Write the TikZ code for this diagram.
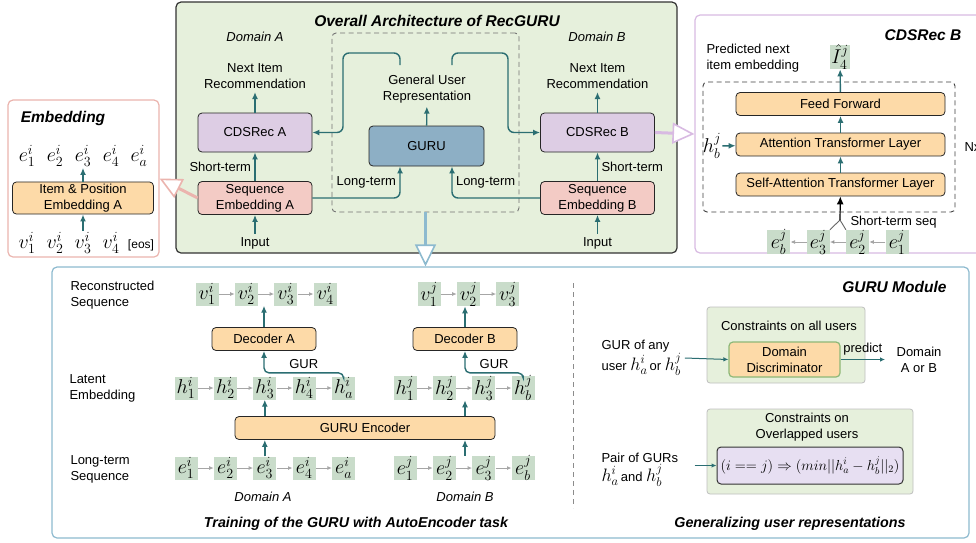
\documentclass[tikz,border=0pt]{standalone}
\usepackage{fix-cm}
\usepackage{amsmath,amssymb}
\usepackage[no-math]{fontspec}
\setmainfont{Liberation Sans}
\usetikzlibrary{arrows.meta,chains,positioning}

\definecolor{archgreen}{HTML}{E6F0DC}
\definecolor{itemgreen}{HTML}{C9DCCA}
\definecolor{cdspurple}{HTML}{DDCDE4}
\definecolor{gurublue}{HTML}{8DAFC5}
\definecolor{seqpink}{HTML}{F3CBC5}
\definecolor{layerorange}{HTML}{FDDAA8}
\definecolor{arrowteal}{HTML}{2B6E72}
\definecolor{moduleblue}{HTML}{8DBACF}
\definecolor{embpink}{HTML}{EBB4AE}
\definecolor{cdsborder}{HTML}{D8BAE2}
\definecolor{formulapurple}{HTML}{E7DFF2}
\definecolor{discgreen}{HTML}{8DB877}

\newcommand{\mth}[1]{{\fontsize{18}{18}\selectfont$#1$}}

\tikzset{
  every node/.style={font=\fontsize{13}{16}\selectfont},
  sectitle/.style={font=\fontsize{15.5}{18}\selectfont\bfseries\itshape},
  caption/.style={font=\fontsize{14.3}{17}\selectfont\bfseries\itshape},
  domlabel/.style={font=\fontsize{13}{16}\selectfont\itshape},
  panel/.style={draw, rounded corners=5pt, line width=1.2pt, fill=white},
  dashbox/.style={draw=black!55, dash pattern=on 5pt off 3.5pt, line width=0.9pt, rounded corners=4pt},
  block/.style={draw=black!85, rounded corners=4pt, line width=0.8pt, align=center, inner sep=2pt},
  cdsbox/.style={block, fill=cdspurple, minimum width=114pt, minimum height=39pt},
  gurubox/.style={block, fill=gurublue, minimum width=115pt, minimum height=40pt},
  seqbox/.style={block, fill=seqpink, minimum width=114pt, minimum height=33pt},
  layerbox/.style={block, fill=layerorange, minimum height=23pt},
  softbox/.style={draw=black!25, fill=archgreen, rounded corners=3pt, line width=0.8pt},
  seqitem/.style={fill=itemgreen, minimum width=23pt, minimum height=23pt, inner sep=0pt, font=\fontsize{20}{20}\selectfont},
  mathtxt/.style={font=\fontsize{20}{20}\selectfont, inner sep=1pt},
  tarrow/.style={draw=arrowteal, line width=1.4pt, -{Latex[length=7pt,width=6pt]}},
  tarrowthin/.style={draw=arrowteal, line width=1pt, -{Latex[length=5pt,width=4.5pt]}},
  garrow/.style={draw=black!35, line width=1pt, -{Latex[length=4.5pt,width=4pt]}},
  hollow/.style={line width=3pt, -{Triangle[length=22pt,width=21pt,fill=white,line width=1.6pt]}},
}

\begin{document}
\begin{tikzpicture}[x=1pt, y=-1pt]
\useasboundingbox (0,0) rectangle (976,542);
\clip (0,0) rectangle (976,542);

% panels
\node[panel, draw=black!80, fill=archgreen, minimum width=501pt, minimum height=251pt] (arch) at (426.5,127.5) {};
\node[panel, draw=embpink, minimum width=151pt, minimum height=157pt] (embpanel) at (83.5,178.5) {};
\node[panel, draw=cdsborder, minimum width=295pt, minimum height=238pt] (cdspanel) at (842.5,134) {};
\node[panel, draw=moduleblue, minimum width=917pt, minimum height=271pt] (gurumod) at (510.5,402.5) {};

% overall architecture
\node[sectitle] (archtitle) at (437,21) {Overall Architecture of RecGURU};
\node[domlabel] (domA) at (255,37) {Domain A};
\node[domlabel] (domB) at (597,37) {Domain B};
\node[dashbox, minimum width=187pt, minimum height=179pt] (gurdash) at (425.5,122.5) {};
\node[align=center] (nextA) at (255,76) {Next Item\\Recommendation};
\node[align=center] (nextB) at (597.5,76) {Next Item\\Recommendation};
\node[align=center] (gur) at (427,89) {General User\\Representation};
\node[cdsbox] (cdsA) at (255,132.5) {CDSRec A};
\node[cdsbox] (cdsB) at (597.5,132.5) {CDSRec B};
\node[gurubox] (guru) at (426.5,146) {GURU};
\node[seqbox] (seqA) at (255,198) {Sequence\\Embedding A};
\node[seqbox] (seqB) at (597.5,198) {Sequence\\Embedding B};
\node (inA) at (255,243) {Input};
\node (inB) at (597.5,243) {Input};
\coordinate (gurL) at (400,65);
\coordinate (gurR) at (452,65);

\draw[tarrow] (inA) -- (seqA);
\draw[tarrow] (inB) -- (seqB);
\draw[tarrow] (seqA) -- node[left] {Short-term} (cdsA);
\draw[tarrow] (seqB) -- node[right] {Short-term} (cdsB);
\draw[tarrow] (cdsA) -- (nextA);
\draw[tarrow] (cdsB) -- (nextB);
\draw[tarrow] (guru) -- (gur);
\draw[tarrow, rounded corners=6pt] (gurL) -- (400,53) -- (343,53) |- (cdsA.east);
\draw[tarrow, rounded corners=6pt] (gurR) -- (452,53) -- (508,53) |- (cdsB.west);
\draw[tarrow, rounded corners=6pt] (seqA.east) -| node[pos=0.75, left] {Long-term} ([xshift=-26.5pt]guru.south);
\draw[tarrow, rounded corners=6pt] (seqB.west) -| node[pos=0.75, right] {Long-term} ([xshift=25.5pt]guru.south);

% embedding
\node[sectitle] (embtitle) at (63,118) {Embedding};
\node[layerbox, minimum width=141pt, minimum height=30pt] (itememb) at (83,198) {Item \& Position\\Embedding A};
\foreach \k [count=\n] in {1,2,3,4,a}
  \node[mathtxt] (embE\n) at (27+28*\n-28,156) {$e_{\k}^{i}$};
\foreach \k in {1,2,3,4}
  \node[mathtxt] (embV\k) at (27+28*\k-28,243) {$v_{\k}^{i}$};
\node[font=\fontsize{12}{14}\selectfont] (eos) at (141,245) {[eos]};
\draw[tarrow] (itememb) -- (embE3);
\draw[tarrow] (embV3) -- (itememb);

% CDSRec B
\node[sectitle] (cdstitle) at (923,35) {CDSRec B};
\node[anchor=west, align=left] (predtxt) at (703,58) {Predicted next\\item embedding};
\node[seqitem, minimum width=20pt] (ihat) at (840,57) {$\hat{I}_4^j$};
\node[dashbox, draw=black!75, minimum width=252pt, minimum height=130pt] (nxbox) at (829,147) {};
\node[layerbox, minimum width=209pt] (ff) at (840.5,104) {Feed Forward};
\node[layerbox, minimum width=209pt] (att) at (840.5,144.5) {Attention Transformer Layer};
\node[layerbox, minimum width=209pt] (selfatt) at (840.5,184.5) {Self-Attention Transformer Layer};
\node[mathtxt] (hbj) at (712,146) {$h_b^j$};
\node[anchor=west] (nx) at (961,147) {Nx};
\begin{scope}[start chain=cdsq going left, node distance=16pt]
\node[seqitem, on chain] (q1) at (897,242) {$e_1^j$};
\node[seqitem, on chain] (q2) {$e_2^j$};
\node[seqitem, on chain] (q3) {$e_3^j$};
\node[seqitem, on chain] (qb) {$e_b^j$};
\end{scope}
\coordinate (fork) at (840,220);
\node[anchor=west] (stseq) at (847,222) {Short-term seq};
\draw[garrow] (q1) edge (q2) (q2) edge (q3) (q3) edge (qb);
\draw[black!60, line width=0.9pt] (q3.north east) -- (fork) -- (q2.north west);
\draw[line width=1.2pt, -{Latex[length=8pt,width=7pt]}] (fork) -- (selfatt);
\draw[tarrow] (ff) -- (ihat);
\draw[tarrow] (att) -- (ff);
\draw[tarrow] (selfatt) -- (att);
\draw[tarrow] (hbj) -- (att);

% GURU module
\node[sectitle, anchor=east] (modtitle) at (950,287) {GURU Module};
\draw[black!45, line width=0.9pt, dash pattern=on 5pt off 4pt] (573,283) -- (573,508);
\node[anchor=west, align=left] (recl) at (67,295) {Reconstructed\\Sequence};
\node[anchor=west, align=left] (latl) at (66,388.5) {Latent\\Embedding};
\node[anchor=west, align=left] (ltl) at (67,469) {Long-term\\Sequence};

\begin{scope}[start chain=vA going right, node distance=16pt]
\node[seqitem, on chain] (vA1) at (207,294) {$v_1^i$};
\node[seqitem, on chain] (vA2) {$v_2^i$};
\node[seqitem, on chain] (vA3) {$v_3^i$};
\node[seqitem, on chain] (vA4) {$v_4^i$};
\end{scope}
\begin{scope}[start chain=vB going right, node distance=16pt]
\node[seqitem, on chain] (vB1) at (429,294) {$v_1^j$};
\node[seqitem, on chain] (vB2) {$v_2^j$};
\node[seqitem, on chain] (vB3) {$v_3^j$};
\end{scope}
\begin{scope}[start chain=hA going right, node distance=16pt]
\node[seqitem, on chain] (hA1) at (186,388) {$h_1^i$};
\node[seqitem, on chain] (hA2) {$h_2^i$};
\node[seqitem, on chain] (hA3) {$h_3^i$};
\node[seqitem, on chain] (hA4) {$h_4^i$};
\node[seqitem, on chain] (hA5) {$h_a^i$};
\end{scope}
\begin{scope}[start chain=hB going right, node distance=16pt]
\node[seqitem, on chain] (hB1) at (405,388) {$h_1^j$};
\node[seqitem, on chain] (hB2) {$h_2^j$};
\node[seqitem, on chain] (hB3) {$h_3^j$};
\node[seqitem, on chain] (hB4) {$h_b^j$};
\end{scope}
\begin{scope}[start chain=eA going right, node distance=16pt]
\node[seqitem, on chain] (eA1) at (186,468) {$e_1^i$};
\node[seqitem, on chain] (eA2) {$e_2^i$};
\node[seqitem, on chain] (eA3) {$e_3^i$};
\node[seqitem, on chain] (eA4) {$e_4^i$};
\node[seqitem, on chain] (eA5) {$e_a^i$};
\end{scope}
\begin{scope}[start chain=eB going right, node distance=16pt]
\node[seqitem, on chain] (eB1) at (405,468) {$e_1^j$};
\node[seqitem, on chain] (eB2) {$e_2^j$};
\node[seqitem, on chain] (eB3) {$e_3^j$};
\node[seqitem, on chain] (eB4) {$e_b^j$};
\end{scope}
\foreach \a/\b in {1/2,2/3,3/4} {
  \draw[garrow] (vA\a) -- (vA\b);
  \draw[garrow] (hA\a) -- (hA\b);
  \draw[garrow] (eA\a) -- (eA\b);
  \draw[garrow] (hB\a) -- (hB\b);
  \draw[garrow] (eB\a) -- (eB\b);
}
\draw[garrow] (hA4) -- (hA5);
\draw[garrow] (eA4) -- (eA5);
\draw[garrow] (vB1) -- (vB2);
\draw[garrow] (vB2) -- (vB3);

\node[layerbox, minimum width=104pt] (decA) at (264,339) {Decoder A};
\node[layerbox, minimum width=104pt] (decB) at (465,339) {Decoder B};
\node[layerbox, minimum width=260pt] (enc) at (365,428) {GURU Encoder};
\node[domlabel] (domA2) at (263,497) {Domain A};
\node[domlabel] (domB2) at (465,497) {Domain B};

\draw[tarrow] (decA) -- (decA.north |- vA2.south);
\draw[tarrow] (decB) -- (decB.north |- vB2.south);
\draw[tarrow, rounded corners=5pt] (hA5.north) |- node[pos=0.75, above] {GUR} ([yshift=-22pt]decA.south) -- (decA.south);
\draw[tarrow, rounded corners=5pt] (hB4.north) |- node[pos=0.75, above] {GUR} ([yshift=-22pt]decB.south) -- (decB.south);
\draw[tarrow] (enc.north -| hA3) -- (hA3);
\draw[tarrow] (enc.north -| decB) -- (decB |- hB2.south);
\draw[tarrow] (eA3) -- (enc.south -| eA3);
\draw[tarrow] (decB |- eB2.north) -- (enc.south -| decB);

% generalizing
\node[softbox, minimum width=158pt, minimum height=76pt] (allusers) at (786,345) {};
\node (alltxt) at (789,326) {Constraints on all users};
\node[block, fill=layerorange, draw=discgreen, line width=1.2pt, minimum width=111pt, minimum height=35pt] (disc) at (784.5,359.5) {Domain\\Discriminator};
\node[anchor=west, align=left] (gurany) at (598,358) {GUR of any\\user \mth{h_a^i}\,or \mth{h_b^j}};
\node[align=center] (domab) at (919,359.5) {Domain\\A or B};
\draw[tarrowthin] (gurany.east) -- (disc.west);
\draw[tarrowthin] (disc.east) -- node[above] {predict} ([xshift=-8pt]domab.west);

\node[softbox, minimum width=206pt, minimum height=85pt] (overlap) at (810,451.5) {};
\node[align=center] (overtxt) at (807,427.5) {Constraints on\\Overlapped users};
\node[block, fill=formulapurple, draw=black!80, line width=1pt, minimum width=186pt, minimum height=37pt, font=\fontsize{14.5}{15}\selectfont] (formula) at (810,465.5) {$(i==j)\Rightarrow(min||h_a^i-h_b^j||_2)$};
\node[anchor=west, align=left] (pairgur) at (598,470) {Pair of GURs\\\mth{h_a^i}\,and \mth{h_b^j}};
\draw[tarrowthin] ([xshift=-22pt]formula.west) -- (formula.west);

% captions
\node[caption] (traincap) at (356,524) {Training of the GURU with AutoEncoder task};
\node[caption] (gencap) at (790,524) {Generalizing user representations};

% hollow arrows
\draw[hollow, draw=moduleblue] (gurdash.south) -- (gurdash.south |- gurumod.north);
\draw[hollow, draw=embpink] (seqA.west) -- (embpanel.east);
\draw[hollow, draw=cdsborder] (cdsB.east) -- (cdspanel.west);
\end{tikzpicture}
\end{document}
